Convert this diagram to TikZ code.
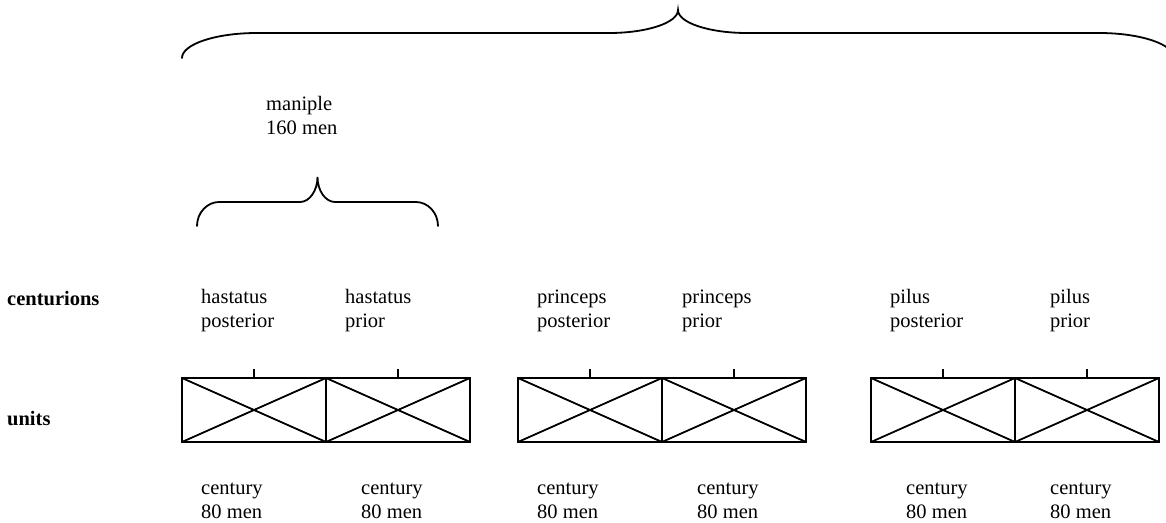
\documentclass[tikz,border=0pt]{standalone}
\usepackage{fontspec}
\setmainfont{Liberation Serif}
\usetikzlibrary{calc}
\newcommand{\twolines}[2]{\vtop{\hbox{#1}\hbox{#2}}}
\begin{document}
\begin{tikzpicture}[x=1pt,y=-1pt,
  lbl/.style={anchor=base west,inner sep=0pt,font=\fontsize{20.5}{24}\selectfont},
  rowlbl/.style={lbl,font=\fontsize{20.5}{24}\selectfont\bfseries},
  unitbox/.style={draw,line width=1.8pt,minimum width=144pt,minimum height=64pt,inner sep=0pt,outer sep=0pt},
  ln/.style={line width=1.8pt},
  brace/.style={line width=1.8pt,line cap=round}]
\useasboundingbox (0,0) rectangle (1166,522);
\clip (0,0) rectangle (1166,522);

% row labels
\node[rowlbl] (rc) at (7,305) {centurions};
\node[rowlbl] (ru) at (7,425) {units};

% centurion labels
\node[lbl] (c1) at (201,303) {\twolines{hastatus}{posterior}};
\node[lbl] (c2) at (345,303) {\twolines{hastatus}{prior}};
\node[lbl] (c3) at (537,303) {\twolines{princeps}{posterior}};
\node[lbl] (c4) at (682,303) {\twolines{princeps}{prior}};
\node[lbl] (c5) at (890,303) {\twolines{pilus}{posterior}};
\node[lbl] (c6) at (1050,303) {\twolines{pilus}{prior}};

% units
\foreach \n/\x in {b1/254,b2/398,b3/590,b4/734,b5/943,b6/1087}{
  \node[unitbox] (\n) at (\x,410) {};
  \draw[ln] (\n.north west) -- (\n.south east);
  \draw[ln] (\n.south west) -- (\n.north east);
  \coordinate (\n t) at ($(\n.north)+(0,-9)$);
  \draw[ln] (\n.north) -- (\n t);
}

% century labels
\foreach \n/\x in {u1/201,u2/361,u3/537,u4/697,u5/906,u6/1050}{
  \node[lbl] (\n) at (\x,494) {\twolines{century}{80 men}};
}

% maniple label
\node[lbl] (man) at (266,110) {\twolines{maniple}{160 men}};

% small brace
\draw[brace] (197,226) .. controls (197,212.8) and (207.1,202) .. (219,202)
  -- (300,202) .. controls (309.4,202) and (317.5,190.8) .. (317.5,177)
  .. controls (317.5,190.8) and (325.6,202) .. (335,202)
  -- (416,202) .. controls (427.9,202) and (438,212.8) .. (438,226);

% top brace
\draw[brace] (182,58) .. controls (182,44.2) and (215.6,33) .. (257,33)
  -- (609,33) .. controls (647.1,33) and (678,22.7) .. (678,10)
  .. controls (678,22.7) and (708.9,33) .. (747,33)
  -- (1099,33) .. controls (1140.4,33) and (1174,44.2) .. (1174,58);
\end{tikzpicture}
\end{document}
